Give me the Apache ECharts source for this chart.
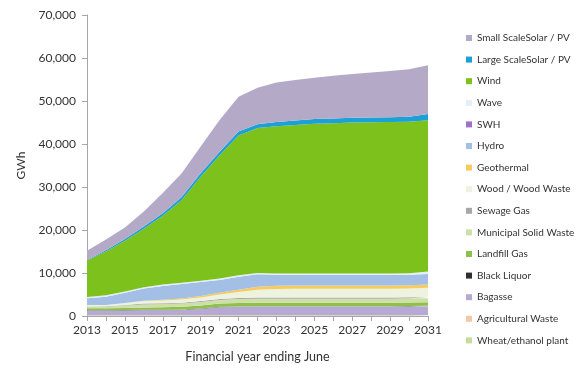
<!DOCTYPE html>
<html>
<head>
<meta charset="utf-8">
<script src="https://cdn.jsdelivr.net/npm/echarts@6/dist/echarts.min.js"></script>
<style>html,body{margin:0;padding:0;background:#fff;}#c{width:586px;height:378px;}</style>
</head>
<body>
<div id="c"></div>
<script>
var years = ['2013','2014','2015','2016','2017','2018','2019','2020','2021','2022','2023','2024','2025','2026','2027','2028','2029','2030','2031'];
var yTicks = [0, 10000, 20000, 30000, 40000, 50000, 60000, 70000];

var wheat     = [100,100,100,100,100,100,100,100,100,100,100,100,100,100,100,100,100,100,100];
var agWaste   = [100,100,100,100,100,100,100,100,100,100,100,100,100,100,100,100,100,100,100];
var bagasse   = [1100,1100,1150,1200,1200,1250,1500,1900,2000,2050,2050,2050,2050,2050,2050,2050,2050,2050,2050];
var blackLiq  = [30,30,30,30,30,30,30,30,30,30,30,30,30,30,30,30,30,100,150];
var landfill  = [450,450,500,550,600,650,700,750,800,800,800,800,800,800,800,800,800,800,800];
var msw       = [350,400,550,700,750,750,800,850,900,950,950,950,950,950,950,950,950,950,950];
var sewage    = [100,100,150,200,200,200,250,250,250,250,250,250,250,250,250,250,250,250,250];
var wood      = [300,300,450,600,650,750,850,1000,1400,1850,2000,2050,2050,2050,2050,2050,2050,2050,2150];
var geothermal= [0,0,0,50,150,250,350,450,550,700,750,750,750,750,750,750,750,750,800];
var hydro     = [1570,1920,2370,2870,3220,3370,3220,2970,3020,2870,2570,2520,2520,2520,2520,2520,2520,2450,2400];
var swh       = [0,0,0,0,0,0,0,0,0,0,0,0,0,0,0,0,0,0,0];
var wave      = [300,300,300,300,300,300,300,300,300,300,300,300,300,300,300,300,300,350,600];
var wind      = [8500,10200,11800,13600,16000,19250,24200,28700,32550,33700,34200,34500,34800,34950,35100,35150,35200,35250,35150];
var largeSolar= [100,300,400,500,600,700,800,800,900,900,1000,1050,1100,1100,1100,1100,1100,1150,1450];
var smallSolar= [2200,2500,2700,3500,4700,5500,6200,7400,8100,8500,9200,9450,9600,9950,10200,10450,10800,11050,11350];

var seriesDefs = [
  ['Wheat/ethanol plant', wheat, '#c6dc9a'],
  ['Agricultural Waste', agWaste, '#f5c7a4'],
  ['Bagasse', bagasse, '#b6aad4'],
  ['Black Liquor', blackLiq, '#2f2f2f'],
  ['Landfill Gas', landfill, '#8fc04b'],
  ['Municipal Solid Waste', msw, '#cde0a6'],
  ['Sewage Gas', sewage, '#a8a8a8'],
  ['Wood / Wood Waste', wood, '#edf3df'],
  ['Geothermal', geothermal, '#f6cc60'],
  ['Hydro', hydro, '#a4bfe6'],
  ['SWH', swh, '#9b72c7'],
  ['Wave', wave, '#e3eef9'],
  ['Wind', wind, '#7cc11c'],
  ['Large ScaleSolar / PV', largeSolar, '#1ba1d5'],
  ['Small ScaleSolar / PV', smallSolar, '#b4aac8']
];

var FONT = 'Lato';
var series = seriesDefs.map(function (d) {
  return {
    name: d[0], type: 'line', stack: 'total', data: d[1],
    showSymbol: false, symbol: 'none', smooth: false,
    lineStyle: { width: 0, color: d[2] },
    itemStyle: { color: d[2] },
    areaStyle: { color: d[2], opacity: 1 },
    emphasis: { disabled: true },
    animation: false
  };
});

var chart = echarts.init(document.getElementById('c'), null, { renderer: 'canvas' });
chart.setOption({
  animation: false,
  backgroundColor: '#ffffff',
  textStyle: { fontFamily: FONT },
  grid: { left: 87, right: 158, top: 15, bottom: 62, containLabel: false },
  legend: {
    orient: 'vertical', left: 461, top: 26,
    icon: 'rect', itemWidth: 6, itemHeight: 6, itemGap: 7.6,
    data: seriesDefs.map(function (d) { return d[0]; }).reverse(),
    textStyle: { fontFamily: FONT, fontSize: 10, color: '#333', lineHeight: 14 },
    selectedMode: false
  },
  xAxis: {
    type: 'category', data: years, boundaryGap: false,
    name: 'Financial year ending June', nameLocation: 'middle', nameGap: 34,
    nameTextStyle: { fontFamily: FONT, fontSize: 12.5, color: '#333' },
    axisLine: { lineStyle: { color: '#a6a6a6', width: 1 } },
    axisTick: { show: true, interval: 0, length: 5, lineStyle: { color: '#a6a6a6' } },
    axisLabel: { interval: 1, fontFamily: FONT, fontSize: 12, color: '#333', margin: 8 },
    splitLine: { show: false }
  },
  yAxis: {
    type: 'value', min: yTicks[0], max: yTicks[yTicks.length - 1], interval: 10000,
    name: 'GWh', nameLocation: 'middle', nameGap: 58, nameRotate: 90,
    nameTextStyle: { fontFamily: FONT, fontSize: 12, color: '#333' },
    axisLine: { show: true, lineStyle: { color: '#a6a6a6', width: 1 } },
    axisTick: { show: true, length: 5, lineStyle: { color: '#a6a6a6' } },
    axisLabel: {
      fontFamily: FONT, fontSize: 12, color: '#333', margin: 11,
      formatter: function (v) { return v.toString().replace(/\B(?=(\d{3})+(?!\d))/g, ','); }
    },
    splitLine: { show: false }
  },
  series: series
});
</script>
</body>
</html>
